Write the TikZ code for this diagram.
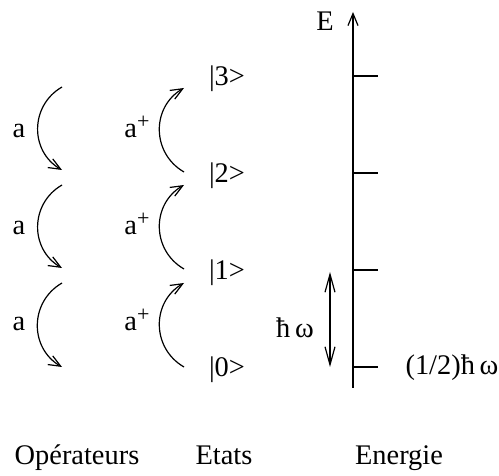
\documentclass[tikz,border=0pt]{standalone}
\usepackage{fontspec}
\setmainfont{Liberation Serif}
\usetikzlibrary{arrows.meta}

\newcommand{\aplus}{a\raisebox{0.75ex}{\fontsize{11}{12}\selectfont +}}

\begin{document}
\begin{tikzpicture}[x=0.5pt,y=-0.5pt,
  every node/.style={font=\fontsize{14.2}{17}\selectfont,inner sep=0pt},
  lbl/.style={anchor=base},
  arr/.style={-{Straight Barb[length=6pt,width=5pt]},semithick},
  down/.style={arr,bend right=60,looseness=1.15},
  up/.style={arr,bend left=60,looseness=1.15}
]
\useasboundingbox (0,0) rectangle (499,476);

% energy axis
\coordinate (axbot) at (353,388);
\coordinate (axtop) at (353,12);
\draw[arr] (axbot) -- (axtop);
\node (E) at (325,21) {E};

% levels
\coordinate (lev0) at (353,367);
\coordinate (lev1) at (353,270);
\coordinate (lev2) at (353,173);
\coordinate (lev3) at (353,76);
\coordinate (tick0) at (378,367);
\coordinate (tick1) at (378,270);
\coordinate (tick2) at (378,173);
\coordinate (tick3) at (378,76);
\draw[semithick] (lev0) -- (tick0);
\draw[semithick] (lev1) -- (tick1);
\draw[semithick] (lev2) -- (tick2);
\draw[semithick] (lev3) -- (tick3);
\node (zero) at (452,368) {(1/2)ħ\,ω};

% quantum
\coordinate (qbot) at (330,367);
\coordinate (qtop) at (330,272);
\draw[semithick,{Straight Barb[length=9pt,width=5pt]}-{Straight Barb[length=9pt,width=5pt]}] (qbot) -- (qtop);
\node (hw) at (295,328) {ħ\,ω};

% states
\node (s3) at (227,79) {|3>};
\node (s2) at (227,176) {|2>};
\node (s1) at (227,273) {|1>};
\node (s0) at (227,370) {|0>};

% annihilation a
\coordinate (d3) at (62,87);
\coordinate (d2) at (62,170);
\coordinate (d2b) at (62,185);
\coordinate (d1) at (62,268);
\coordinate (d1b) at (62,283);
\coordinate (d0) at (62,367);
\draw[down] (d3) to (d2);
\draw[down] (d2b) to (d1);
\draw[down] (d1b) to (d0);
\node[lbl] (a3) at (19,138) {a};
\node[lbl] (a2) at (19,235) {a};
\node[lbl] (a1) at (19,331) {a};

% creation a+
\coordinate (u0) at (184,367);
\coordinate (u1) at (184,283);
\coordinate (u1b) at (184,269);
\coordinate (u2) at (184,185);
\coordinate (u2b) at (184,172);
\coordinate (u3) at (184,88);
\draw[up] (u2b) to (u3);
\draw[up] (u1b) to (u2);
\draw[up] (u0) to (u1);
\node[lbl] (ap3) at (137,138) {\aplus};
\node[lbl] (ap2) at (137,235) {\aplus};
\node[lbl] (ap1) at (137,331) {\aplus};

% column titles
\node[lbl] (ops) at (77,465) {Opérateurs};
\node[lbl] (ets) at (224,465) {Etats};
\node[lbl] (nrg) at (399,465) {Energie};
\end{tikzpicture}
\end{document}
